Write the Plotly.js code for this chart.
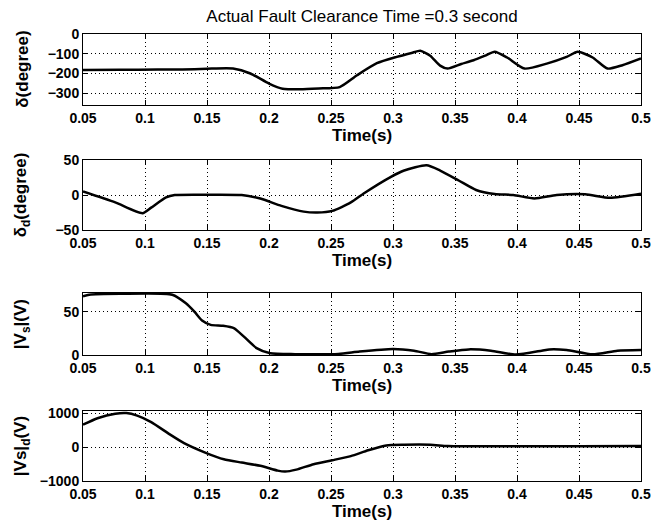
<!DOCTYPE html>
<html>
<head>
<meta charset="utf-8">
<script src="https://cdn.plot.ly/plotly-3.0.1.min.js"></script>
<style>html,body{margin:0;padding:0;background:#fff;}#chart{width:663px;height:521px;}</style>
</head>
<body>
<div id="chart"></div>
<script>
// Rotor angle delta (degree)
const tDelta = [0.05, 0.08, 0.11, 0.13, 0.15, 0.171, 0.185, 0.2, 0.211, 0.225, 0.24, 0.257, 0.271, 0.287, 0.303, 0.315, 0.322, 0.33, 0.338, 0.344, 0.355, 0.365, 0.375, 0.382, 0.392, 0.406, 0.424, 0.44, 0.449, 0.461, 0.473, 0.485, 0.5];
const delta = [-182, -181, -180, -180, -176, -175, -200, -251, -277, -280, -276, -269, -209, -148, -116, -96, -85, -110, -160, -175, -152, -133, -108, -90, -119, -175, -150, -116, -90, -119, -175, -158, -124];

// delta_d (degree)
const tDeltaD = [0.05, 0.076, 0.098, 0.105, 0.117, 0.124, 0.15, 0.178, 0.193, 0.21, 0.228, 0.239, 0.251, 0.266, 0.277, 0.298, 0.309, 0.327, 0.338, 0.353, 0.367, 0.382, 0.397, 0.414, 0.432, 0.455, 0.475, 0.5];
const deltaD = [5, -10.6, -26, -18, -3.4, 0, 0.5, 0, -5, -15.5, -23.7, -25, -22.7, -10.6, 2.9, 25.6, 35, 42.5, 35, 20.8, 7.2, 1.4, 0, -4.8, 0, 1, -3.9, 2];

// |Vs| (V)
const tVs = [0.05, 0.055, 0.08, 0.122, 0.133, 0.14, 0.146, 0.153, 0.163, 0.172, 0.18, 0.19, 0.201, 0.221, 0.256, 0.273, 0.3, 0.317, 0.331, 0.345, 0.361, 0.379, 0.399, 0.42, 0.426, 0.44, 0.461, 0.481, 0.5];
const vs = [68, 70, 71, 70, 60, 50, 40, 35, 34, 31, 21, 8, 2, 1, 1.2, 4, 7, 5, 1, 4, 6.5, 5, 0.5, 5, 6.5, 5.8, 0.8, 5, 5.8];

// |Vs|_d (V)
const tVsd = [0.05, 0.0617, 0.076, 0.085, 0.0937, 0.105, 0.12, 0.1315, 0.149, 0.1636, 0.178, 0.193, 0.207, 0.213, 0.222, 0.236, 0.251, 0.266, 0.28, 0.2946, 0.309, 0.33, 0.344, 0.367, 0.42, 0.45, 0.5];
const vsd = [657, 847, 980, 1000, 923, 733, 371, 114, -171, -362, -457, -552, -695, -723, -666, -505, -390, -267, -95, 48, 67, 67, 29, 19, 25, 20, 29];

const xTicks = [0.05, 0.1, 0.15, 0.2, 0.25, 0.3, 0.35, 0.4, 0.45, 0.5];
const xTickText = ['0.05', '0.1', '0.15', '0.2', '0.25', '0.3', '0.35', '0.4', '0.45', '0.5'];

const titleText = 'Actual Fault Clearance Time =0.3 second';
const yTitles = ['δ(degree)', 'δ<sub>d</sub>(degree)', '|V<sub>s</sub>|(V)', '|Vs|<sub>d</sub>(V)'];
const yTicks = [[-300, -200, -100, 0], [-50, 0, 50], [0, 50], [-1000, 0, 1000]];
const yRanges = [[-360, 0], [-50, 50], [0, 72], [-1000, 1060]];

const FONT = '"Liberation Sans", Arial, sans-serif';

const series = [[tDelta, delta], [tDeltaD, deltaD], [tVs, vs], [tVsd, vsd]];
const traces = series.map((s, i) => ({
  x: s[0], y: s[1], type: 'scatter', mode: 'lines',
  line: {color: '#000', width: 2.5, shape: 'spline', smoothing: 0.6},
  xaxis: i === 0 ? 'x' : 'x' + (i + 1),
  yaxis: i === 0 ? 'y' : 'y' + (i + 1),
  showlegend: false, hoverinfo: 'skip'
}));

const domains = [[0.841, 1.0], [0.5615, 0.718], [0.2819, 0.4206], [0, 0.1566]];

const layout = {
  width: 663, height: 521,
  margin: {l: 83, r: 22, t: 34, b: 40},
  paper_bgcolor: '#fff', plot_bgcolor: '#fff',
  showlegend: false,
  title: {text: titleText, x: 0.546, xanchor: 'center', y: 0.97, yanchor: 'middle',
          font: {family: FONT, size: 17, color: '#000'}},
  annotations: []
};

for (let i = 0; i < 4; i++) {
  const xk = i === 0 ? 'xaxis' : 'xaxis' + (i + 1);
  const yk = i === 0 ? 'yaxis' : 'yaxis' + (i + 1);
  const yref = i === 0 ? 'y' : 'y' + (i + 1);
  const xref = i === 0 ? 'x' : 'x' + (i + 1);
  layout[xk] = {
    domain: [0, 1], anchor: yref, range: [0.05, 0.5],
    tickmode: 'array', tickvals: xTicks, ticktext: xTickText,
    ticks: 'inside', ticklen: 5, tickcolor: '#000',
    showline: true, linecolor: '#000', linewidth: 1, mirror: 'ticks',
    showgrid: true, gridcolor: '#000', gridwidth: 1, griddash: '1px,3px',
    zeroline: false,
    tickfont: {family: FONT, size: 14, color: '#000', weight: 'bold'},
    title: {text: 'Time(s)', standoff: 4, font: {family: FONT, size: 17, color: '#000', weight: 'bold'}}
  };
  layout[yk] = {
    domain: domains[i], anchor: xref, range: yRanges[i],
    tickmode: 'array', tickvals: yTicks[i],
    ticks: 'inside', ticklen: 5, tickcolor: '#000',
    showline: true, linecolor: '#000', linewidth: 1, mirror: 'ticks',
    showgrid: true, gridcolor: '#000', gridwidth: 1, griddash: '1px,3px',
    zeroline: false,
    tickfont: {family: FONT, size: 14, color: '#000', weight: 'bold'}
  };
  layout.annotations.push({
    text: yTitles[i], textangle: -90, showarrow: false,
    xref: 'paper', yref: 'paper',
    x: -0.109, xanchor: 'center',
    y: (domains[i][0] + domains[i][1]) / 2, yanchor: 'middle',
    font: {family: FONT, size: 17, color: '#000', weight: 'bold'}
  });
}

Plotly.newPlot('chart', traces, layout, {staticPlot: true, displayModeBar: false});
</script>
</body>
</html>
